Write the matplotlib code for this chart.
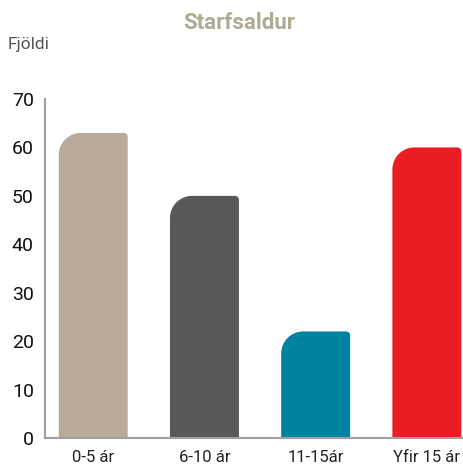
import matplotlib
matplotlib.use("Agg")
import matplotlib.pyplot as plt
from matplotlib.path import Path
from matplotlib.patches import PathPatch

# data
categories = ["0-5 ár", "6-10 ár", "11-15ár", "Yfir 15 ár"]
values = [63, 50, 22, 60]
colors = ["#b8ab9b", "#58595b", "#0083a0", "#ec1c24"]
yticks = [0, 10, 20, 30, 40, 50, 60, 70]

plt.rcParams["font.family"] = ["Roboto", "DejaVu Sans"]

W, H = 464, 468
fig = plt.figure(figsize=(W / 100, H / 100), dpi=100)
ax = fig.add_axes([45 / W, 30 / H, (W - 45) / W, (438 - 99) / H])

ax.set_xlim(-0.434, 3.334)
ax.set_ylim(0, 70)


def rounded_bar(ax, x, h, width, color, r_tl=22, r_tr=4):
    # bar with a big rounded top-left corner and a small top-right one (radii in px)
    t = ax.transData
    sx = t.transform((1, 0))[0] - t.transform((0, 0))[0]
    sy = t.transform((0, 1))[1] - t.transform((0, 0))[1]
    k = 0.5523
    x0, x1 = x - width / 2, x + width / 2
    ax_l, ay_l = r_tl / sx, r_tl / sy
    ax_r, ay_r = r_tr / sx, r_tr / sy
    verts = [
        (x0, 0),
        (x0, h - ay_l),
        (x0, h - ay_l + k * ay_l), (x0 + ax_l - k * ax_l, h), (x0 + ax_l, h),
        (x1 - ax_r, h),
        (x1 - ax_r + k * ax_r, h), (x1, h - ay_r + k * ay_r), (x1, h - ay_r),
        (x1, 0),
        (x0, 0),
    ]
    codes = [Path.MOVETO, Path.LINETO,
             Path.CURVE4, Path.CURVE4, Path.CURVE4,
             Path.LINETO,
             Path.CURVE4, Path.CURVE4, Path.CURVE4,
             Path.LINETO, Path.CLOSEPOLY]
    ax.add_patch(PathPatch(Path(verts, codes), facecolor=color, edgecolor="none"))


for i, (v, c) in enumerate(zip(values, colors)):
    rounded_bar(ax, i, v, 0.62, c)

ax.set_xticks(range(len(categories)))
ax.set_xticklabels(categories, fontsize=12, color="#222222")
ax.set_yticks(yticks)
ax.set_yticklabels([str(t) for t in yticks], fontsize=14, color="#111111")
ax.tick_params(axis="both", length=0)
ax.tick_params(axis="y", pad=8)
ax.tick_params(axis="x", pad=9)

for s in ["top", "right"]:
    ax.spines[s].set_visible(False)
for s in ["left", "bottom"]:
    ax.spines[s].set_color("#a0a0a0")
    ax.spines[s].set_linewidth(1.5)

fig.text(239 / W, 1 - 23 / H, "Starfsaldur", ha="center", va="center",
         fontsize=16, fontweight="bold", color="#b0a994")
fig.text(8 / W, 1 - 44 / H, "Fjöldi", ha="left", va="center",
         fontsize=12.5, color="#555555")

fig.savefig("out.png", dpi=100)
